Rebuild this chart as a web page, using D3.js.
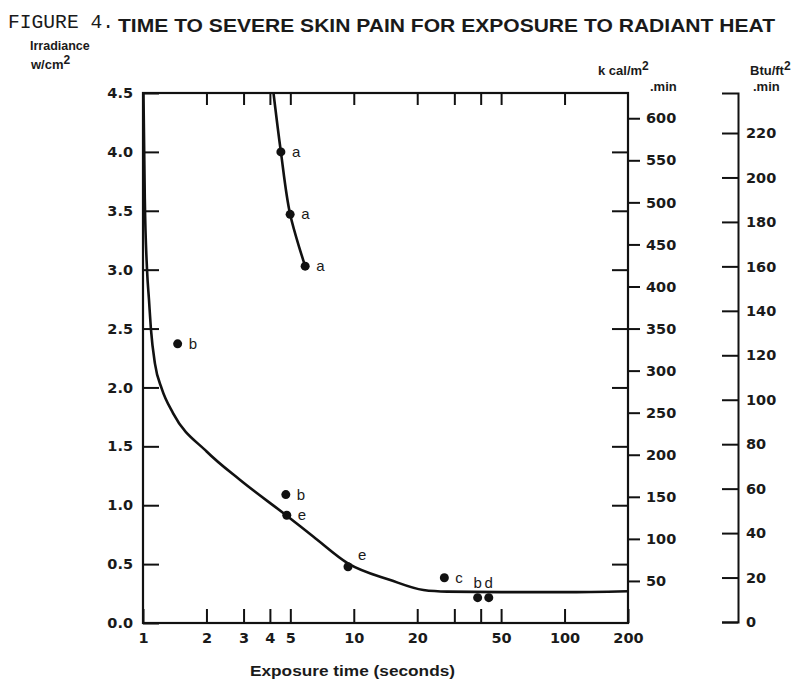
<!DOCTYPE html>
<html>
<head>
<meta charset="utf-8">
<script src="https://cdn.jsdelivr.net/npm/d3@7"></script>
<style>
  body { margin: 0; background: #fff; }
  text { font-family: "Liberation Sans", Arial, sans-serif; fill: #1a1a1a; }
</style>
</head>
<body>
<div id="chart"></div>
<script>
// exposure time ticks (log scale) and which get a label
const timeTicks = [1, 2, 3, 4, 5, 10, 20, 30, 40, 50, 100, 200];
const timeLabelled = [1, 2, 3, 4, 5, 10, 20, 50, 100, 200];
const irrTicks = [0, 0.5, 1, 1.5, 2, 2.5, 3, 3.5, 4, 4.5];
const kcalTicks = [50, 100, 150, 200, 250, 300, 350, 400, 450, 500, 550, 600];
const btuTicks = [0, 20, 40, 60, 80, 100, 120, 140, 160, 180, 200, 220];

// measured points: time (s), irradiance (W/cm2), label
const ptTime = [4.51, 4.99, 5.88, 1.46, 4.76, 4.81, 9.39, 26.9, 38.7, 43.7];
const ptIrr = [4.0, 3.47, 3.03, 2.37, 1.09, 0.915, 0.478, 0.384, 0.215, 0.215];
const ptLabel = ["a", "a", "a", "b", "b", "e", "e", "c", "b", "d"];
const ptLabelSide = ["r", "r", "r", "r", "r", "r", "ur", "r", "u", "u"];

// upper curve (series a)
const upperTime = [4.16, 4.51, 4.99, 5.88];
const upperIrr = [4.5, 4.0, 3.47, 3.03];

// lower curve
const lowerTime = [1.005, 1.02, 1.045, 1.068, 1.09, 1.14, 1.227, 1.39, 2.01, 2.89, 4.76, 6.44, 9.38, 14.9, 21.4, 27.8, 50, 100, 200];
const lowerIrr = [4.5, 3.6, 3.0, 2.74, 2.5, 2.2, 1.99, 1.78, 1.454, 1.214, 0.917, 0.733, 0.507, 0.365, 0.28, 0.266, 0.262, 0.262, 0.27];

const W = 802, H = 682;
const svg = d3.select("#chart").append("svg").attr("width", W).attr("height", H);

const x = d3.scaleLog().domain([1, 200]).range([143, 628]);
const y = d3.scaleLinear().domain([0, 4.5]).range([623, 93]);
const yKcal = d3.scaleLinear().domain([0, 630]).range([623, 93]);
const yBtu = d3.scaleLinear().domain([0, 238]).range([622, 93]);

const numFont = "DejaVu Sans, Verdana, sans-serif";
const axisStyle = (g) => {
  g.selectAll("line").attr("stroke", "#111").attr("stroke-width", 2);
  g.selectAll("path").attr("stroke", "#111").attr("stroke-width", 2);
  g.selectAll("text").attr("font-size", 14.5).attr("font-weight", "bold").attr("fill", "#333")
    .style("font-family", numFont);
};

// left axis, ticks pointing inward
svg.append("g")
  .attr("transform", "translate(" + x.range()[0] + ",0)")
  .call(d3.axisLeft(y).tickValues(irrTicks).tickSizeInner(-16).tickSizeOuter(0).tickPadding(10).tickFormat(d3.format(".1f")))
  .call(axisStyle)
  .call((g) => g.select(".domain").remove());

// inward ticks on the right border
svg.append("g")
  .attr("transform", "translate(" + x.range()[1] + ",0)")
  .call(d3.axisRight(y).tickValues(irrTicks.slice(1, -1)).tickSizeInner(-16).tickSizeOuter(0).tickFormat(""))
  .call(axisStyle)
  .call((g) => g.select(".domain").remove());

// kcal axis
svg.append("g")
  .attr("transform", "translate(" + x.range()[1] + ",0)")
  .call(d3.axisRight(yKcal).tickValues(kcalTicks).tickSizeInner(12).tickSizeOuter(0).tickPadding(6))
  .call(axisStyle)
  .call((g) => g.select(".domain").remove());

// bottom axis
svg.append("g")
  .attr("transform", "translate(0," + y.range()[0] + ")")
  .call(d3.axisBottom(x).tickValues(timeTicks).tickSizeInner(-14).tickSizeOuter(0).tickPadding(10)
    .tickFormat((d) => (timeLabelled.includes(d) ? d : "")))
  .call(axisStyle)
  .call((g) => g.select(".domain").remove());

// top ticks
svg.append("g")
  .attr("transform", "translate(0," + y.range()[1] + ")")
  .call(d3.axisTop(x).tickValues(timeTicks.slice(1, -1)).tickSizeInner(-12).tickSizeOuter(0).tickFormat(""))
  .call(axisStyle)
  .call((g) => g.select(".domain").remove());

// frame
svg.append("rect")
  .attr("x", x.range()[0]).attr("y", y.range()[1])
  .attr("width", x.range()[1] - x.range()[0])
  .attr("height", y.range()[0] - y.range()[1])
  .attr("fill", "none").attr("stroke", "#111").attr("stroke-width", 2.2);

// Btu axis with bracket ends
svg.append("g")
  .attr("transform", "translate(738,0)")
  .call(d3.axisRight(yBtu).tickValues(btuTicks).tickSizeInner(-16).tickSizeOuter(-16).tickPadding(8))
  .call(axisStyle);

// curves
const line = d3.line().x((d) => x(d[0])).y((d) => y(d[1])).curve(d3.curveMonotoneX);
svg.append("path")
  .datum(lowerTime.map((t, i) => [t, lowerIrr[i]]))
  .attr("d", line).attr("fill", "none").attr("stroke", "#111").attr("stroke-width", 2.6);

const lineUp = d3.line().x((d) => x(d[0])).y((d) => y(d[1])).curve(d3.curveCatmullRom);
svg.append("path")
  .datum(upperTime.map((t, i) => [t, upperIrr[i]]))
  .attr("d", lineUp).attr("fill", "none").attr("stroke", "#111").attr("stroke-width", 2.6);

// points
const pts = ptTime.map((t, i) => ({ t: t, v: ptIrr[i], lab: ptLabel[i], side: ptLabelSide[i] }));
svg.append("g").selectAll("circle").data(pts).enter().append("circle")
  .attr("cx", (d) => x(d.t)).attr("cy", (d) => y(d.v)).attr("r", 4.5).attr("fill", "#111");

svg.append("g").selectAll("text").data(pts).enter().append("text")
  .attr("x", (d) => x(d.t) + (d.side === "u" ? 0 : d.side === "ur" ? 10 : 11))
  .attr("y", (d) => y(d.v) + (d.side === "u" ? -10 : d.side === "ur" ? -7 : 5))
  .attr("text-anchor", (d) => (d.side === "u" ? "middle" : "start"))
  .attr("font-size", 15).attr("fill", "#222")
  .text((d) => d.lab);

// titles
svg.append("text").attr("x", 8).attr("y", 28)
  .style("font-family", "Liberation Mono, DejaVu Sans Mono, monospace")
  .attr("font-size", 21).attr("textLength", 106).attr("lengthAdjust", "spacingAndGlyphs")
  .text("FIGURE 4.");
svg.append("text").attr("x", 118).attr("y", 32)
  .attr("font-size", 17.5).attr("font-weight", "bold").attr("fill", "#222")
  .attr("textLength", 657).attr("lengthAdjust", "spacingAndGlyphs")
  .text("TIME TO SEVERE SKIN PAIN FOR EXPOSURE TO RADIANT HEAT");

// unit captions
const unit = (tx, ty, main, sup) => {
  const t = svg.append("text").attr("x", tx).attr("y", ty).attr("font-size", 13).attr("font-weight", "bold").attr("fill", "#2a2a2a");
  t.append("tspan").text(main);
  if (sup) t.append("tspan").attr("dy", -5).attr("font-size", 12).text(sup);
  return t;
};
unit(30, 50, "Irradiance").attr("font-size", 12.5).attr("font-weight", "normal").style("font-weight", "600");
unit(31, 69, "w/cm", "2");
unit(598, 75, "k cal/m", "2");
unit(650, 91, ".min");
unit(750, 75, "Btu/ft", "2");
unit(753, 91, ".min");

svg.append("text").attr("x", 250).attr("y", 676)
  .attr("font-size", 15).attr("font-weight", "bold").attr("fill", "#2a2a2a")
  .attr("textLength", 205).attr("lengthAdjust", "spacingAndGlyphs")
  .text("Exposure time (seconds)");
</script>
</body>
</html>
